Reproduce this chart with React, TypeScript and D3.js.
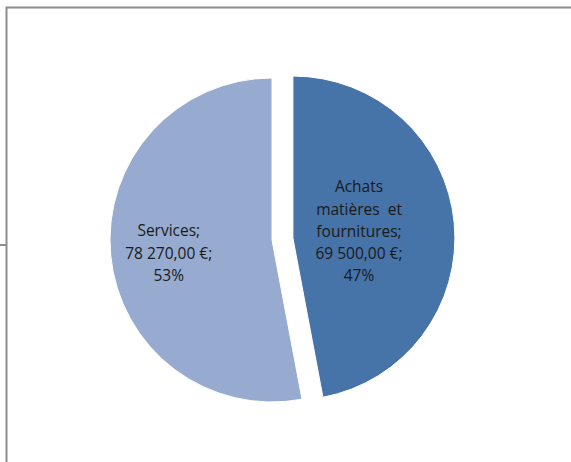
import * as React from "react";
import * as d3 from "d3";

const categories: string[] = ["Achats matières  et fournitures", "Services"];
const amounts: number[] = [69500, 78270];
const valueLabels: string[] = ["69 500,00 €", "78 270,00 €"];
const labelLines: string[][] = [
    ["Achats", "matières  et", "fournitures;", "69 500,00 €;", "47%"],
    ["Services;", "78 270,00 €;", "53%"]
];

const colors: string[] = ["#4673A8", "#97AACF"];
const width: number = 571;
const height: number = 462;

interface Slice {
    name: string;
    value: number;
    label: string;
    lines: string[];
    color: string;
    explode: number;
    labelRadius: number;
}

const App = (): JSX.Element => {
    const ref = React.useRef<SVGSVGElement>(null);

    React.useEffect(() => {
        const svg = d3.select(ref.current);
        svg.selectAll("*").remove();

        const cx: number = 272;
        const cy: number = 240;
        const radius: number = 162;

        // chart area frame (clipped by the picture on right and bottom)
        svg.append("path")
            .attr("d", `M6.5,${height + 2}V7.5H${width + 2}`)
            .attr("fill", "none")
            .attr("stroke", "#8c8c8c")
            .attr("stroke-width", 2);
        svg.append("line")
            .attr("x1", 0).attr("x2", 6)
            .attr("y1", 245).attr("y2", 245)
            .attr("stroke", "#8c8c8c")
            .attr("stroke-width", 2);

        const data: Slice[] = categories.map((c: string, i: number) => ({
            name: c,
            value: amounts[i],
            label: valueLabels[i],
            lines: labelLines[i],
            color: colors[i],
            explode: i === 0 ? 21 : 0,
            labelRadius: i === 0 ? 0.41 : 0.64
        }));

        const pie = d3.pie<Slice>().sort(null).value((d: Slice) => d.value);
        const arc = d3.arc<d3.PieArcDatum<Slice>>().innerRadius(0).outerRadius(radius);
        const arcs = pie(data);

        const g = svg.append("g").attr("transform", `translate(${cx},${cy})`);

        const slice = g.selectAll(".slice")
            .data(arcs).enter().append("g")
            .attr("class", "slice")
            .attr("transform", (d) => {
                const mid: number = (d.startAngle + d.endAngle) / 2;
                return `translate(${Math.sin(mid) * d.data.explode},${-Math.cos(mid) * d.data.explode})`;
            });

        slice.append("path")
            .attr("d", arc)
            .attr("fill", (d) => d.data.color)
            .attr("stroke", "#ffffff")
            .attr("stroke-width", 1);

        slice.each(function (d) {
            const mid: number = (d.startAngle + d.endAngle) / 2;
            const r: number = radius * d.data.labelRadius;
            const lx: number = Math.sin(mid) * r;
            const ly: number = -Math.cos(mid) * r + (d.index === 1 ? 4 : 0);
            const lineH: number = 22.2;
            const n: number = d.data.lines.length;
            const text = d3.select(this).append("text")
                .attr("text-anchor", "middle")
                .attr("font-family", "'Open Sans', sans-serif")
                .attr("font-size", 15.5)
                .attr("fill", "#1a1a1a");
            d.data.lines.forEach((line: string, k: number) => {
                text.append("tspan")
                    .attr("x", lx)
                    .attr("y", ly + (k - (n - 1) / 2) * lineH + 5)
                    .attr("xml:space", "preserve")
                    .style("white-space", "pre")
                    .text(line);
            });
        });
    }, []);

    return <svg ref={ref} width={width} height={height}
        style={{ position: "absolute", left: 0, top: 0, background: "#ffffff" }} />;
};

export default App;
